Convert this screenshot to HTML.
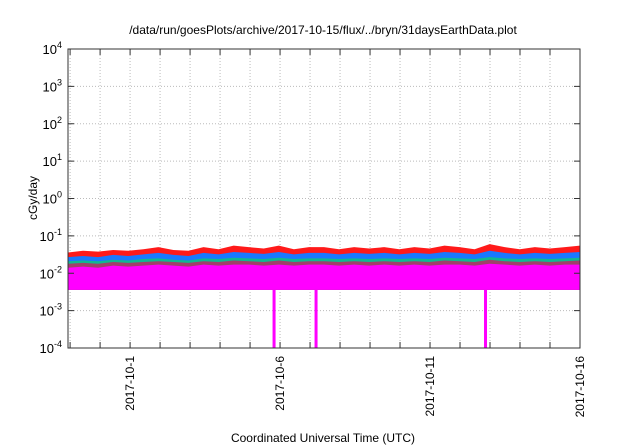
<!DOCTYPE html>
<html><head><meta charset="utf-8"><style>
body{margin:0;background:#fff}
svg{display:block;font-family:"Liberation Sans",sans-serif}
</style></head><body>
<svg id="c" width="640" height="448" viewBox="0 0 640 448"></svg>
<script>
const dayStart = -2.07;
const dayEnd = 15;
const yTicksExp = [-4,-3,-2,-1,0,1,2,3,4];
const xTickDays = [0,5,10,15];
const xTickLabels = ["2017-10-1","2017-10-6","2017-10-11","2017-10-16"];
const redTop = [0.036,0.04,0.038,0.042,0.04,0.044,0.05,0.042,0.04,0.05,0.044,0.055,0.05,0.046,0.055,0.044,0.05,0.05,0.044,0.05,0.046,0.05,0.044,0.05,0.046,0.055,0.05,0.044,0.06,0.05,0.044,0.05,0.046,0.05,0.055];
const blueTop = [0.027,0.029,0.027,0.031,0.029,0.032,0.035,0.031,0.029,0.035,0.032,0.037,0.035,0.033,0.037,0.032,0.035,0.035,0.032,0.035,0.033,0.035,0.032,0.035,0.033,0.037,0.035,0.032,0.04,0.035,0.032,0.035,0.033,0.035,0.037];
const greenTop = [0.021,0.022,0.021,0.023,0.022,0.024,0.025,0.023,0.022,0.025,0.024,0.026,0.025,0.024,0.026,0.024,0.025,0.025,0.024,0.025,0.024,0.025,0.024,0.025,0.024,0.026,0.025,0.024,0.027,0.025,0.024,0.025,0.024,0.025,0.026];
const brownTop = [0.018,0.019,0.018,0.02,0.019,0.02,0.021,0.02,0.019,0.021,0.02,0.022,0.021,0.02,0.022,0.02,0.021,0.021,0.02,0.021,0.02,0.021,0.02,0.021,0.02,0.022,0.021,0.02,0.023,0.021,0.02,0.021,0.02,0.021,0.022];
const magentaTop = [0.014,0.015,0.014,0.016,0.015,0.016,0.017,0.016,0.015,0.017,0.016,0.017,0.017,0.016,0.017,0.016,0.017,0.017,0.016,0.017,0.016,0.017,0.016,0.017,0.016,0.017,0.017,0.016,0.018,0.017,0.016,0.017,0.016,0.017,0.017];
const floorVal = 0.0036;
const dropoutDays = [4.8,6.2,11.85];

const L=68,R=580,T=49,B=348;
const X=d=>L+(d-dayStart)/(dayEnd-dayStart)*(R-L);
const Y=v=>B-(Math.log10(v)+4)/8*(B-T);
const svg=document.getElementById('c');
const NS="http://www.w3.org/2000/svg";
function mk(t,a,p){const e=document.createElementNS(NS,t);for(const k in a)e.setAttribute(k,a[k]);(p||svg).appendChild(e);return e;}

for(let d=Math.ceil(dayStart);d<=dayEnd;d++){const g=mk('line',{x1:X(d),x2:X(d),y1:T,y2:B,stroke:'#bbb','stroke-dasharray':'1,2'});

}
yTicksExp.forEach(e=>{const v=Math.pow(10,e);const g=mk('line',{x1:L,x2:R,y1:Y(v),y2:Y(v),stroke:'#bbb','stroke-dasharray':'1,2'});

});

function area(arr,color,name){
  let pts=[];
  arr.forEach((v,i)=>{const d=dayStart+i*(dayEnd-dayStart)/(arr.length-1);pts.push(X(d)+','+Y(v));});
  pts.push(X(dayEnd)+','+Y(floorVal));pts.push(X(dayStart)+','+Y(floorVal));
  const p=mk('polygon',{points:pts.join(' '),fill:color});
  
  
}
area(redTop,'#ff1a1a','series-red');
area(blueTop,'#1a78ff','series-blue');
area(greenTop,'#10b890','series-green');
area(brownTop,'#a0406a','series-brown');
area(magentaTop,'#ff00ff','series-magenta');
dropoutDays.forEach(d=>{const r=mk('rect',{x:X(d)-1.5,y:Y(floorVal),width:3,height:B-Y(floorVal),fill:'#ff00ff'});

});

const f=mk('rect',{x:L,y:T,width:R-L,height:B-T,fill:'none',stroke:'#333'});



for(let d=Math.ceil(dayStart);d<=dayEnd;d++){mk('line',{x1:X(d),x2:X(d),y1:B,y2:B-6,stroke:'#333'});mk('line',{x1:X(d),x2:X(d),y1:T,y2:T+6,stroke:'#333'});}
yTicksExp.forEach(e=>{const y=Y(Math.pow(10,e));mk('line',{x1:L,x2:L+6,y1:y,y2:y,stroke:'#333'});mk('line',{x1:R,x2:R-6,y1:y,y2:y,stroke:'#333'});
const t=mk('text',{x:L-6,y:y+5,'text-anchor':'end','font-size':13});


t.textContent='10';const s=mk('tspan',{dy:-6,'font-size':9},t);s.textContent=e;});
xTickDays.forEach((d,i)=>{const t=mk('text',{transform:`translate(${X(d)+4},${B+8}) rotate(-90)`,'text-anchor':'end','font-size':12});


t.textContent=xTickLabels[i];});

const ti=mk('text',{x:323,y:34,'text-anchor':'middle','font-size':12});


ti.textContent='/data/run/goesPlots/archive/2017-10-15/flux/../bryn/31daysEarthData.plot';
const yl=mk('text',{transform:'translate(37,198) rotate(-90)','text-anchor':'middle','font-size':12});


yl.textContent='cGy/day';
const xl=mk('text',{x:323,y:442,'text-anchor':'middle','font-size':12});


xl.textContent='Coordinated Universal Time (UTC)';
</script>
</body></html>
